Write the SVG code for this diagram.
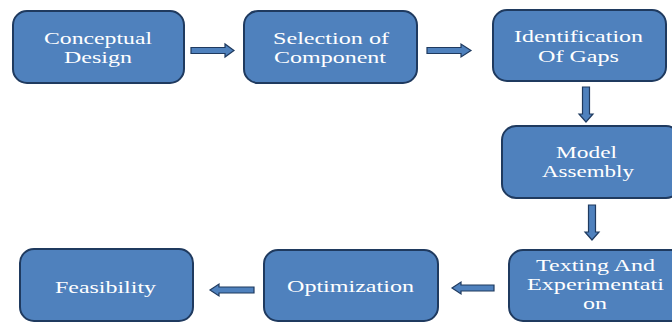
<svg xmlns="http://www.w3.org/2000/svg" width="672" height="322" viewBox="0 0 672 322">
<style>
.box{fill:#4f81bd;stroke:#1f3a5f;stroke-width:2}
.arr{fill:#4f81bd;stroke:#1f3a5f;stroke-width:1.2;stroke-linejoin:miter}
.t{font-family:'Liberation Serif','Times New Roman','DejaVu Serif',serif;font-size:17px;fill:#ffffff}
</style>
<rect width="672" height="322" fill="#ffffff"/>
<g id="connectors">
<path class="arr" d="M191,47.5 H225 V44 L234,50.5 L225,57 V53.5 H191 Z"/>
<path class="arr" d="M427,47.5 H461 V44 L471,50.5 L461,57 V53.5 H427 Z"/>
<path class="arr" d="M582.5,87 V114 H579 L586,122 L593,114 H589.5 V87 Z"/>
<path class="arr" d="M588.5,205 V232 H585 L592,240 L599,232 H595.5 V205 Z"/>
<path class="arr" d="M254,287 H219 V284 L210,290 L219,296 V293 H254 Z"/>
<path class="arr" d="M494,285 H461 V282 L452,288 L461,294 V291 H494 Z"/>
</g>
<g id="n1">
<rect class="box" x="13" y="11" width="171" height="72" rx="14"/>
<text class="t" x="44" y="43.5" textLength="108" lengthAdjust="spacingAndGlyphs">Conceptual</text>
<text class="t" x="64" y="63" textLength="68" lengthAdjust="spacingAndGlyphs">Design</text>
</g>
<g id="n2">
<rect class="box" x="244" y="11" width="173" height="72" rx="14"/>
<text class="t" x="273" y="43.5" textLength="116" lengthAdjust="spacingAndGlyphs">Selection of</text>
<text class="t" x="274" y="63" textLength="112" lengthAdjust="spacingAndGlyphs">Component</text>
</g>
<g id="n3">
<rect class="box" x="493" y="10" width="173" height="71" rx="14"/>
<text class="t" x="514" y="42" textLength="129" lengthAdjust="spacingAndGlyphs">Identification</text>
<text class="t" x="538" y="62" textLength="81" lengthAdjust="spacingAndGlyphs">Of Gaps</text>
</g>
<g id="n4">
<rect class="box" x="502" y="126" width="178" height="72" rx="14"/>
<text class="t" x="556" y="158" textLength="61" lengthAdjust="spacingAndGlyphs">Model</text>
<text class="t" x="542" y="177" textLength="92" lengthAdjust="spacingAndGlyphs">Assembly</text>
</g>
<g id="n5">
<rect class="box" x="509" y="250" width="178" height="71" rx="14"/>
<text class="t" x="536" y="271" textLength="119" lengthAdjust="spacingAndGlyphs">Texting And</text>
<text class="t" x="527" y="290" textLength="137" lengthAdjust="spacingAndGlyphs">Experimentati</text>
<text class="t" x="583" y="309" textLength="24" lengthAdjust="spacingAndGlyphs">on</text>
</g>
<g id="n6">
<rect class="box" x="264" y="250" width="174" height="71" rx="14"/>
<text class="t" x="287" y="292" textLength="127" lengthAdjust="spacingAndGlyphs">Optimization</text>
</g>
<g id="n7">
<rect class="box" x="20" y="249" width="173" height="72" rx="14"/>
<text class="t" x="55" y="293" textLength="101" lengthAdjust="spacingAndGlyphs">Feasibility</text>
</g>
</svg>
